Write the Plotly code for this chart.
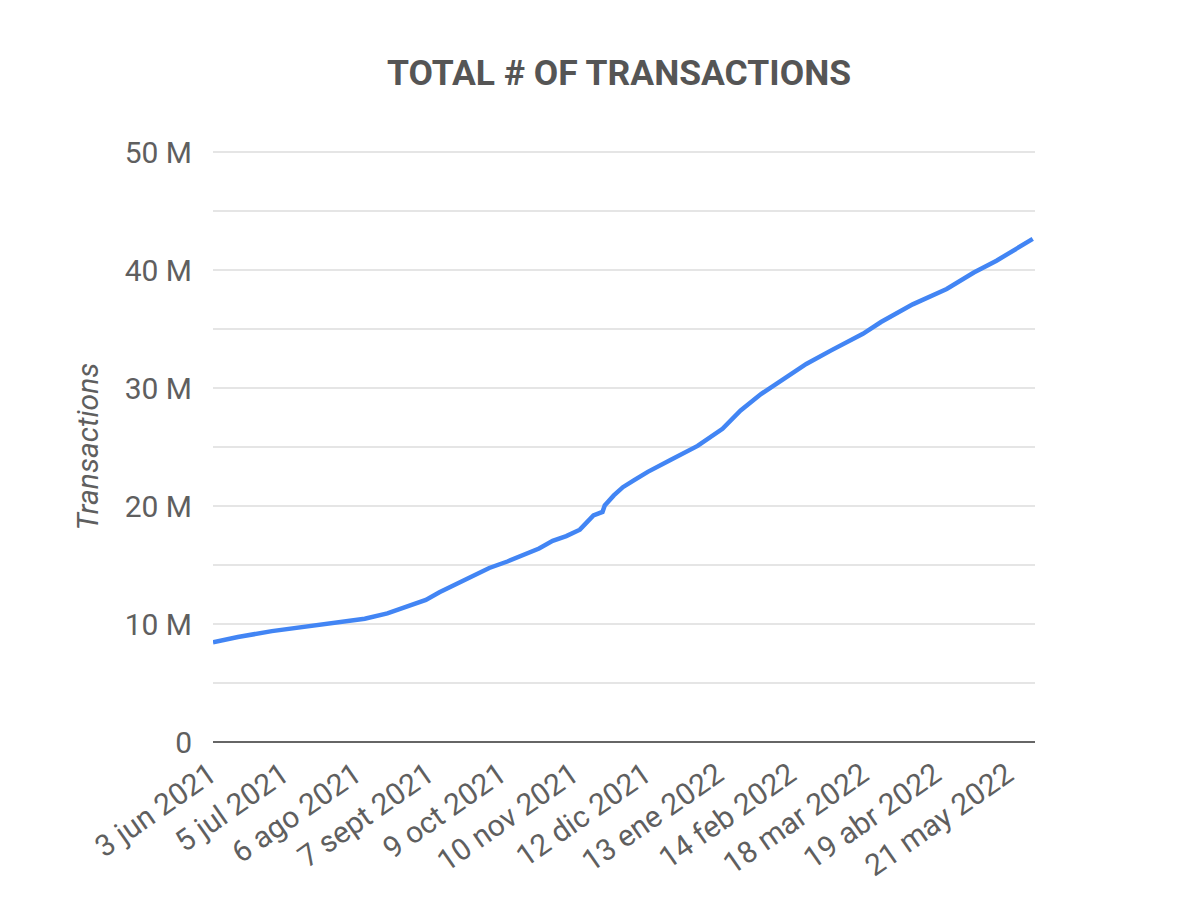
import plotly.graph_objects as go

dates = ["2021-06-03", "2021-06-14", "2021-06-29", "2021-07-14", "2021-07-28", "2021-08-09",
         "2021-08-19", "2021-08-27", "2021-09-05", "2021-09-11", "2021-09-20", "2021-09-26",
         "2021-10-03", "2021-10-11", "2021-10-18", "2021-10-25", "2021-10-31", "2021-11-06",
         "2021-11-12", "2021-11-15", "2021-11-18", "2021-11-22", "2021-11-23", "2021-11-27",
         "2021-12-01", "2021-12-06", "2021-12-12", "2021-12-22", "2022-01-03", "2022-01-14",
         "2022-01-22", "2022-01-31", "2022-02-10", "2022-02-20", "2022-03-03", "2022-03-14",
         "2022-03-17", "2022-03-25", "2022-04-02", "2022-04-08", "2022-04-23", "2022-05-05",
         "2022-05-15", "2022-05-22", "2022-05-31"]
transactions_m = [8.45, 8.9, 9.4, 9.8, 10.15, 10.45,
                  10.9, 11.4, 12.05, 12.7, 13.55, 14.1,
                  14.75, 15.3, 15.8, 16.4, 17.05, 17.45,
                  18.0, 18.65, 19.2, 19.5, 20.05, 20.9,
                  21.6, 22.2, 22.9, 23.9, 25.1, 26.55,
                  28.1, 29.5, 30.8, 32.05, 33.2, 34.25,
                  34.6, 35.6, 36.4, 37.1, 38.4, 39.8,
                  40.8, 41.6, 42.65]
transactions = [v * 1e6 for v in transactions_m]

x_tick_vals = ["2021-06-03", "2021-07-05", "2021-08-06", "2021-09-07", "2021-10-09", "2021-11-10",
               "2021-12-12", "2022-01-13", "2022-02-14", "2022-03-18", "2022-04-19", "2022-05-21"]
x_tick_text = ["3 jun 2021", "5 jul 2021", "6 ago 2021", "7 sept 2021", "9 oct 2021", "10 nov 2021",
               "12 dic 2021", "13 ene 2022", "14 feb 2022", "18 mar 2022", "19 abr 2022", "21 may 2022"]
y_tick_vals = [0, 10e6, 20e6, 30e6, 40e6, 50e6]
y_tick_text = ["0", "10 M", "20 M", "30 M", "40 M", "50 M"]

GRAY = "#5f5f5f"
fig = go.Figure()
fig.add_trace(go.Scatter(x=dates, y=transactions, mode="lines",
                         line=dict(color="#4285f4", width=4.5), showlegend=False))

fig.update_layout(
    width=1200, height=914,
    margin=dict(l=213, r=165, t=151, b=172),
    paper_bgcolor="white", plot_bgcolor="white",
    font=dict(family="Roboto", color=GRAY, size=30),
    title=dict(text="<b>TOTAL # OF TRANSACTIONS</b>", x=0.494, xref="paper", xanchor="center",
               y=1 - 73 / 914, yanchor="middle", font=dict(size=35.5, color="#555555", family="Roboto")),
    xaxis=dict(type="date", range=["2021-06-03", "2022-06-01"], tickmode="array",
               tickvals=x_tick_vals, ticktext=x_tick_text, tickangle=-35,
               showgrid=False, zeroline=False, showline=False, ticks="",
               ticklabelstandoff=8, ticklabelshift=-3,
               tickfont=dict(size=30, color=GRAY)),
    yaxis=dict(range=[0, 50.1e6], tickmode="array", tickvals=y_tick_vals, ticktext=y_tick_text,
               showgrid=True, gridcolor="#e5e5e5", gridwidth=2,
               minor=dict(tickvals=[5e6, 15e6, 25e6, 35e6, 45e6], showgrid=True,
                          gridcolor="#e5e5e5", gridwidth=2),
               zeroline=True, zerolinecolor="#666666", zerolinewidth=2,
               ticks="", ticklabelstandoff=20, tickfont=dict(size=30, color=GRAY)),
    annotations=[dict(text="<i>Transactions</i>", textangle=-90, xref="paper", yref="paper",
                      x=-(213 - 87) / 822, y=0.5, xanchor="center", yanchor="middle",
                      showarrow=False, font=dict(size=30, color=GRAY, family="Roboto"))],
)

fig.write_html("out.html")
